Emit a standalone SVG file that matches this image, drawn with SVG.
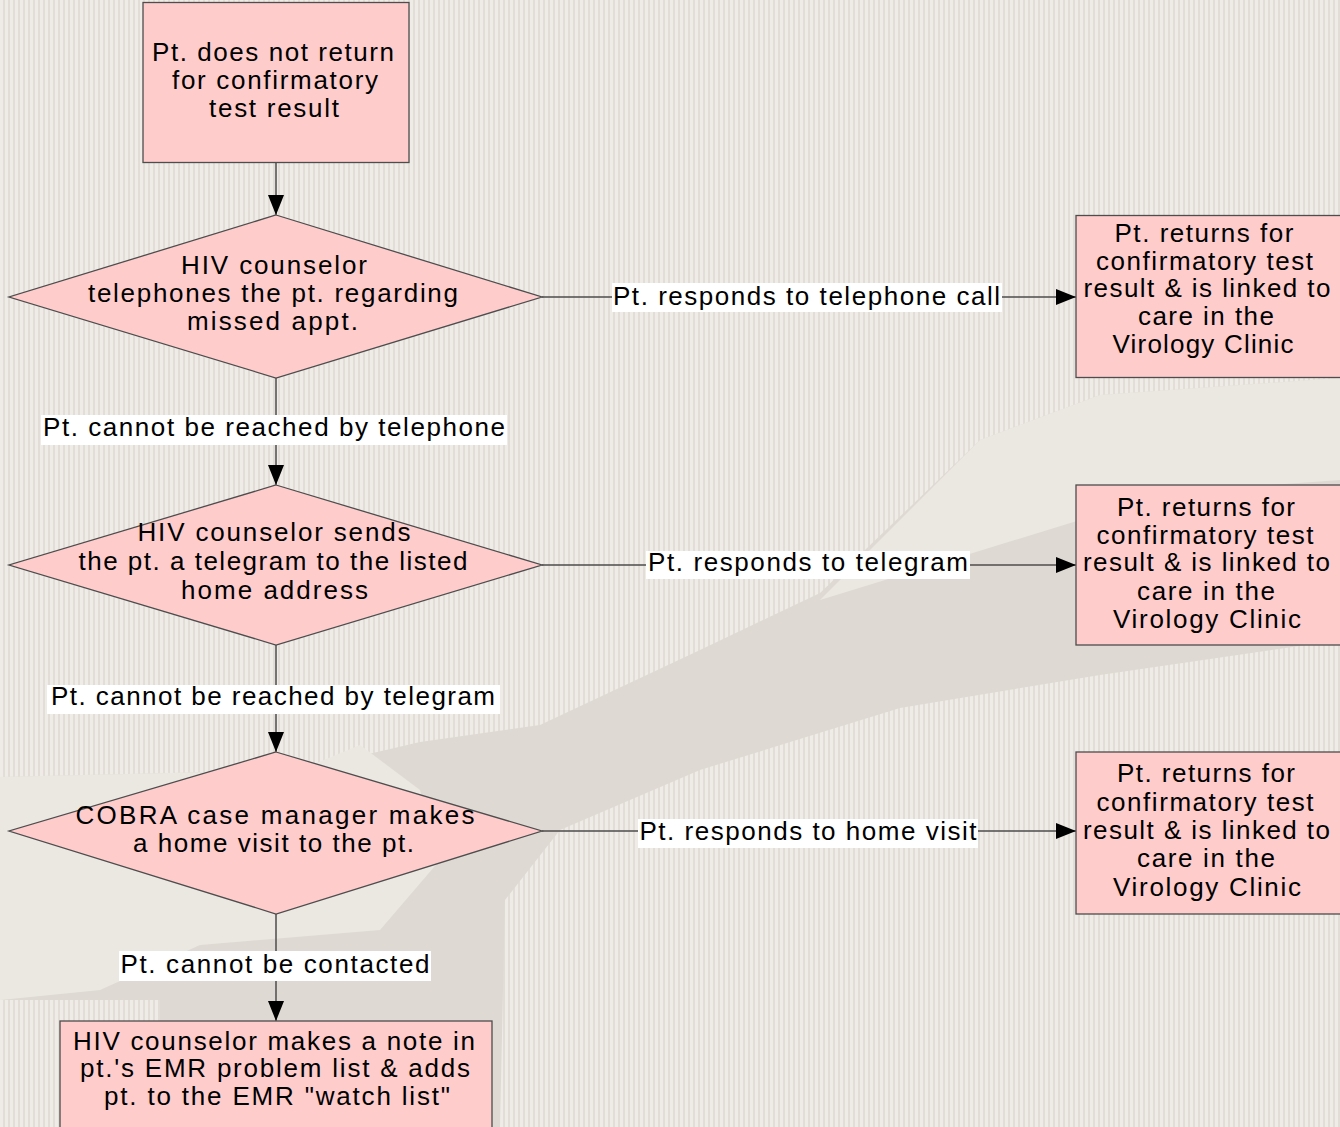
<svg xmlns="http://www.w3.org/2000/svg" width="1340" height="1127" viewBox="0 0 1340 1127">
  <defs>
    <pattern id="stripes" x="0" y="0" width="5" height="10" patternUnits="userSpaceOnUse">
      <rect width="5" height="10" fill="#efece7"/>
      <rect x="3" width="2" height="10" fill="#e2ded7"/>
    </pattern>
    <marker id="arrow" viewBox="0 0 20 16" refX="20" refY="8" markerWidth="20" markerHeight="16" markerUnits="userSpaceOnUse" orient="auto">
      <path d="M0,0 L20,8 L0,16 Z" fill="#000"/>
    </marker>
    <style>
      .node { fill: #ffcccc; stroke: #4d4d4d; stroke-width: 1.3; }
      .edge { fill: none; stroke: #4d4d4d; stroke-width: 1.5; marker-end: url(#arrow); }
      .lblbg { fill: #ffffff; }
      text { font-family: "Liberation Sans", Arial, sans-serif; font-size: 26px; fill: #000; text-anchor: middle; }
    </style>
  </defs>

  <!-- striped backdrop with a faint arm-and-hand silhouette -->
  <g id="backdrop">
    <rect width="1340" height="1127" fill="url(#stripes)"/>
    <path d="M0,777 L300,770 L420,742 L540,725 L700,650 L820,593 L980,440 L1100,395 L1340,378 L1340,640 L1100,675 L900,708 L700,770 L560,830 L505,900 L500,1127 L160,1127 L160,1000 L0,1000 Z" fill="#dedad3"/>
    <path d="M0,777 L300,770 L360,745 L420,790 L440,860 L380,930 L200,945 L100,990 L0,1000 Z" fill="#ebe8e2"/>
    <path d="M820,600 L900,520 L980,440 L1100,395 L1340,378 L1340,480 L1200,490 L1080,520 L950,560 Z" fill="#ebe8e2"/>
  </g>

  <!-- connectors -->
  <g id="connectors">
    <line class="edge" x1="276" y1="162" x2="276" y2="215"/>
    <line class="edge" x1="276" y1="378" x2="276" y2="485"/>
    <line class="edge" x1="276" y1="645" x2="276" y2="752"/>
    <line class="edge" x1="276" y1="914" x2="276" y2="1021"/>
    <line class="edge" x1="542" y1="297" x2="1076" y2="297"/>
    <line class="edge" x1="542" y1="565" x2="1076" y2="565"/>
    <line class="edge" x1="542" y1="831" x2="1076" y2="831"/>

    <rect class="lblbg" x="612" y="283" width="390" height="29"/>
    <text x="806.5" y="304.5" textLength="387" lengthAdjust="spacing">Pt. responds to telephone call</text>

    <rect class="lblbg" x="41" y="415" width="466" height="30"/>
    <text x="274" y="436" textLength="462" lengthAdjust="spacing">Pt. cannot be reached by telephone</text>

    <rect class="lblbg" x="646" y="551" width="324" height="28"/>
    <text x="808" y="571" textLength="320" lengthAdjust="spacing">Pt. responds to telegram</text>

    <rect class="lblbg" x="47" y="685" width="453" height="29"/>
    <text x="273" y="705" textLength="444" lengthAdjust="spacing">Pt. cannot be reached by telegram</text>

    <rect class="lblbg" x="638" y="819" width="340" height="29"/>
    <text x="808" y="839.5" textLength="337" lengthAdjust="spacing">Pt. responds to home visit</text>

    <rect class="lblbg" x="119" y="951" width="312" height="30"/>
    <text x="275" y="973" textLength="309" lengthAdjust="spacing">Pt. cannot be contacted</text>
  </g>

  <!-- start -->
  <g id="start">
    <rect class="node" x="143" y="2.5" width="266" height="160"/>
    <text x="273" y="61" textLength="242" lengthAdjust="spacing">Pt. does not return</text>
    <text x="275" y="88.5" textLength="206" lengthAdjust="spacing">for confirmatory</text>
    <text x="274" y="116.5" textLength="130" lengthAdjust="spacing">test result</text>
  </g>

  <!-- decision: telephone -->
  <g id="telephone">
    <polygon class="node" points="276,215 542,297 276,378 9,297"/>
    <text x="274" y="274" textLength="186" lengthAdjust="spacing">HIV counselor</text>
    <text x="273" y="302" textLength="370" lengthAdjust="spacing">telephones the pt. regarding</text>
    <text x="272.5" y="330" textLength="171" lengthAdjust="spacing">missed appt.</text>
  </g>

  <!-- decision: telegram -->
  <g id="telegram">
    <polygon class="node" points="276,485 542,565 276,645 9,565"/>
    <text x="274" y="540.5" textLength="273" lengthAdjust="spacing">HIV counselor sends</text>
    <text x="273" y="569.5" textLength="389" lengthAdjust="spacing">the pt. a telegram to the listed</text>
    <text x="274.5" y="598.5" textLength="187" lengthAdjust="spacing">home address</text>
  </g>

  <!-- decision: home visit -->
  <g id="homevisit">
    <polygon class="node" points="276,752 542,831 276,914 9,831"/>
    <text x="275" y="823.5" textLength="399" lengthAdjust="spacing">COBRA case manager makes</text>
    <text x="273.5" y="852" textLength="281" lengthAdjust="spacing">a home visit to the pt.</text>
  </g>

  <!-- end: watch list -->
  <g id="watchlist">
    <rect class="node" x="60" y="1021" width="432" height="112"/>
    <text x="274" y="1049.5" textLength="402" lengthAdjust="spacing">HIV counselor makes a note in</text>
    <text x="275" y="1077" textLength="390" lengthAdjust="spacing">pt.'s EMR problem list &amp; adds</text>
    <text x="277" y="1104.5" textLength="346" lengthAdjust="spacing">pt. to the EMR "watch list"</text>
  </g>

  <!-- outcome after telephone -->
  <g id="linked1">
    <rect class="node" x="1076" y="215.5" width="270" height="162"/>
    <text x="1204" y="241.5" textLength="179" lengthAdjust="spacing">Pt. returns for</text>
    <text x="1204.5" y="269.5" textLength="217" lengthAdjust="spacing">confirmatory test</text>
    <text x="1207" y="297" textLength="247" lengthAdjust="spacing">result &amp; is linked to</text>
    <text x="1206" y="325" textLength="136" lengthAdjust="spacing">care in the</text>
    <text x="1203" y="353" textLength="181" lengthAdjust="spacing">Virology Clinic</text>
  </g>

  <!-- outcome after telegram -->
  <g id="linked2">
    <rect class="node" x="1076" y="485" width="270" height="160"/>
    <text x="1206" y="516" textLength="178" lengthAdjust="spacing">Pt. returns for</text>
    <text x="1205" y="543.5" textLength="217" lengthAdjust="spacing">confirmatory test</text>
    <text x="1206.5" y="571" textLength="247" lengthAdjust="spacing">result &amp; is linked to</text>
    <text x="1206" y="599.5" textLength="138" lengthAdjust="spacing">care in the</text>
    <text x="1207" y="628" textLength="188" lengthAdjust="spacing">Virology Clinic</text>
  </g>

  <!-- outcome after home visit -->
  <g id="linked3">
    <rect class="node" x="1076" y="752" width="270" height="162"/>
    <text x="1206" y="782" textLength="178" lengthAdjust="spacing">Pt. returns for</text>
    <text x="1205" y="810.5" textLength="217" lengthAdjust="spacing">confirmatory test</text>
    <text x="1206.5" y="839" textLength="247" lengthAdjust="spacing">result &amp; is linked to</text>
    <text x="1206" y="867" textLength="138" lengthAdjust="spacing">care in the</text>
    <text x="1207" y="895.5" textLength="188" lengthAdjust="spacing">Virology Clinic</text>
  </g>
</svg>
